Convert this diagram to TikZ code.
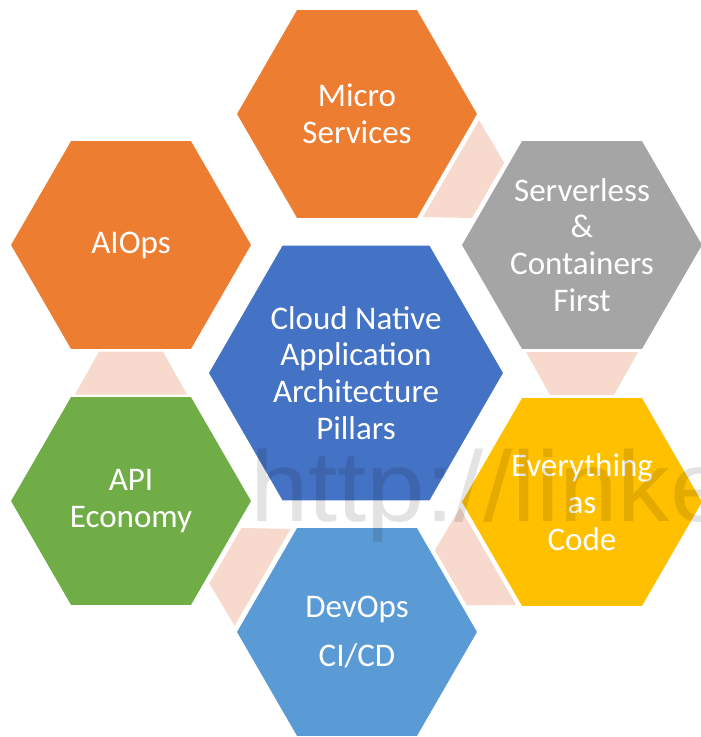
\documentclass[tikz,border=0pt]{standalone}
\usepackage{fontspec}
\setmainfont{Carlito}
\newfontfamily\wmfont{Liberation Sans}
\usetikzlibrary{shapes.geometric,calc}
\definecolor{cOrange}{HTML}{ED7D31}
\definecolor{cGray}{HTML}{A5A5A5}
\definecolor{cBlue}{HTML}{4472C4}
\definecolor{cYellow}{HTML}{FFC000}
\definecolor{cGreen}{HTML}{70AD47}
\definecolor{cLight}{HTML}{5B9BD5}
\definecolor{cPink}{HTML}{F8D9CE}
\tikzset{
  hexnode/.style={regular polygon, regular polygon sides=6, minimum size=242pt,
    inner sep=0pt, outer sep=0pt, draw=white, line width=1.5pt},
  bighex/.style={hexnode, minimum size=296pt},
  lbl/.style={text=white, align=center, inner sep=0pt,
    font=\fontsize{33}{36.8}\selectfont},
  linkfill/.style={fill=cPink},
  watermark/.style={text=black, text opacity=0.11, inner sep=0pt,
    font=\wmfont\fontsize{100}{100}\selectfont}
}
\newcommand{\hexlink}[2]{%
  \coordinate (lk-m) at ($(#1)!0.5!(#2)$);
  \coordinate (lk-l) at ($(lk-m)!21.5pt!(#1)$);
  \coordinate (lk-s) at ($(lk-m)!21.5pt!(#2)$);
  \fill[linkfill] ($(lk-l)!56pt!90:(#2)$) -- ($(lk-s)!32pt!90:(#2)$)
     -- ($(lk-s)!32pt!-90:(#2)$) -- ($(lk-l)!56pt!-90:(#2)$) -- cycle;}
\begin{document}
\begin{tikzpicture}[x=1pt,y=-1pt]
\useasboundingbox (0,0) rectangle (701,737);
% hexagon centres (named coordinates first, for the links)
\coordinate (pmicro) at (357,114);
\coordinate (pserver) at (582,245);
\coordinate (pevery) at (582,502);
\coordinate (pdevops) at (357,632);
\coordinate (papi) at (131,501);
\coordinate (paiops) at (131,245);
% links
\hexlink{pmicro}{pserver}
\hexlink{pserver}{pevery}
\hexlink{pevery}{pdevops}
\hexlink{pdevops}{papi}
\hexlink{papi}{paiops}
% hexagons
\node[hexnode, fill=cOrange] (micro) at (pmicro) {};
\node[hexnode, fill=cGray] (server) at (pserver) {};
\node[hexnode, fill=cYellow] (every) at (pevery) {};
\node[hexnode, fill=cLight] (devops) at (pdevops) {};
\node[hexnode, fill=cGreen] (api) at (papi) {};
\node[hexnode, fill=cOrange] (aiops) at (paiops) {};
\node[bighex, fill=cBlue] (core) at (356,373) {};
% labels
\node[lbl] (tmicro) at (micro) {Micro\\Services};
\node[lbl] (tserver) at (server) {Serverless\\\&\\Containers\\First};
\node[lbl] (tevery) at (every) {Everything\\as\\Code};
\node[lbl] (tdevops) at (devops) {DevOps\\[13pt]CI/CD};
\node[lbl] (tapi) at (api) {API\\Economy};
\node[lbl] (taiops) at (aiops) {AIOps};
\node[lbl] (tcore) at (core) {Cloud Native\\Application\\Architecture\\Pillars};
% watermark
\begin{scope}
\clip (0,0) rectangle (701,737);
\node[watermark, anchor=base west, xscale=1.05, transform shape] (wm) at (250,521) {http://linked};
\end{scope}
\end{tikzpicture}
\end{document}
